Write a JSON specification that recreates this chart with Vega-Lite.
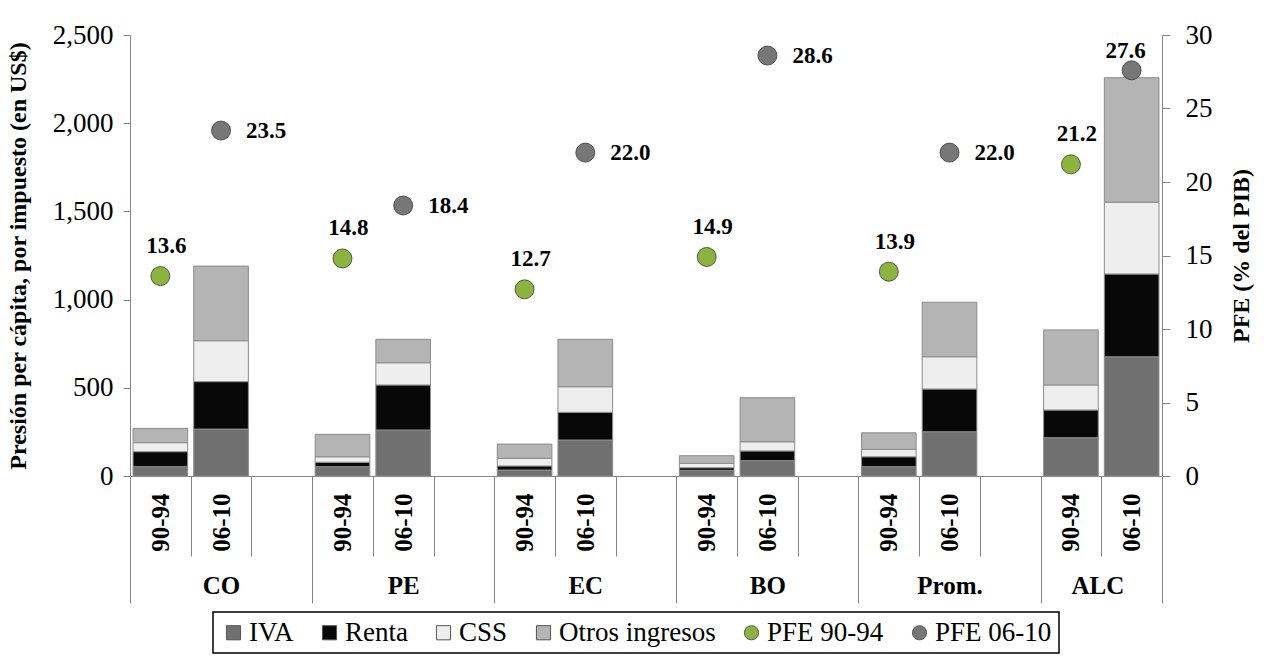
{
  "$schema": "https://vega.github.io/schema/vega-lite/v6.json",
  "width": 1032,
  "height": 441,
  "autosize": {"type": "none"},
  "padding": {"left": 130, "top": 35, "right": 107, "bottom": 192},
  "background": "white",
  "config": {
    "view": {"stroke": null},
    "font": "Liberation Serif",
    "axis": {"grid": false, "domainColor": "#868686", "tickColor": "#868686", "labelFont": "Liberation Serif", "titleFont": "Liberation Serif", "labelColor": "black", "titleColor": "black"},
    "legend": {"labelFont": "Liberation Serif", "titleFont": "Liberation Serif"}
  },
  "datasets": {
    "barras": [
      {"slot": "CO|90-94", "pais": "CO", "periodo": "90-94", "impuesto": "IVA", "orden": 1, "valor": 53},
      {"slot": "CO|90-94", "pais": "CO", "periodo": "90-94", "impuesto": "Renta", "orden": 2, "valor": 85},
      {"slot": "CO|90-94", "pais": "CO", "periodo": "90-94", "impuesto": "CSS", "orden": 3, "valor": 51},
      {"slot": "CO|90-94", "pais": "CO", "periodo": "90-94", "impuesto": "Otros ingresos", "orden": 4, "valor": 81},
      {"slot": "CO|06-10", "pais": "CO", "periodo": "06-10", "impuesto": "IVA", "orden": 1, "valor": 266},
      {"slot": "CO|06-10", "pais": "CO", "periodo": "06-10", "impuesto": "Renta", "orden": 2, "valor": 269},
      {"slot": "CO|06-10", "pais": "CO", "periodo": "06-10", "impuesto": "CSS", "orden": 3, "valor": 232},
      {"slot": "CO|06-10", "pais": "CO", "periodo": "06-10", "impuesto": "Otros ingresos", "orden": 4, "valor": 423},
      {"slot": "PE|90-94", "pais": "PE", "periodo": "90-94", "impuesto": "IVA", "orden": 1, "valor": 53},
      {"slot": "PE|90-94", "pais": "PE", "periodo": "90-94", "impuesto": "Renta", "orden": 2, "valor": 25},
      {"slot": "PE|90-94", "pais": "PE", "periodo": "90-94", "impuesto": "CSS", "orden": 3, "valor": 31},
      {"slot": "PE|90-94", "pais": "PE", "periodo": "90-94", "impuesto": "Otros ingresos", "orden": 4, "valor": 127},
      {"slot": "PE|06-10", "pais": "PE", "periodo": "06-10", "impuesto": "IVA", "orden": 1, "valor": 261},
      {"slot": "PE|06-10", "pais": "PE", "periodo": "06-10", "impuesto": "Renta", "orden": 2, "valor": 255},
      {"slot": "PE|06-10", "pais": "PE", "periodo": "06-10", "impuesto": "CSS", "orden": 3, "valor": 126},
      {"slot": "PE|06-10", "pais": "PE", "periodo": "06-10", "impuesto": "Otros ingresos", "orden": 4, "valor": 133},
      {"slot": "EC|90-94", "pais": "EC", "periodo": "90-94", "impuesto": "IVA", "orden": 1, "valor": 34},
      {"slot": "EC|90-94", "pais": "EC", "periodo": "90-94", "impuesto": "Renta", "orden": 2, "valor": 23},
      {"slot": "EC|90-94", "pais": "EC", "periodo": "90-94", "impuesto": "CSS", "orden": 3, "valor": 43},
      {"slot": "EC|90-94", "pais": "EC", "periodo": "90-94", "impuesto": "Otros ingresos", "orden": 4, "valor": 81},
      {"slot": "EC|06-10", "pais": "EC", "periodo": "06-10", "impuesto": "IVA", "orden": 1, "valor": 204},
      {"slot": "EC|06-10", "pais": "EC", "periodo": "06-10", "impuesto": "Renta", "orden": 2, "valor": 157},
      {"slot": "EC|06-10", "pais": "EC", "periodo": "06-10", "impuesto": "CSS", "orden": 3, "valor": 145},
      {"slot": "EC|06-10", "pais": "EC", "periodo": "06-10", "impuesto": "Otros ingresos", "orden": 4, "valor": 269},
      {"slot": "BO|90-94", "pais": "BO", "periodo": "90-94", "impuesto": "IVA", "orden": 1, "valor": 32},
      {"slot": "BO|90-94", "pais": "BO", "periodo": "90-94", "impuesto": "Renta", "orden": 2, "valor": 15},
      {"slot": "BO|90-94", "pais": "BO", "periodo": "90-94", "impuesto": "CSS", "orden": 3, "valor": 25},
      {"slot": "BO|90-94", "pais": "BO", "periodo": "90-94", "impuesto": "Otros ingresos", "orden": 4, "valor": 43},
      {"slot": "BO|06-10", "pais": "BO", "periodo": "06-10", "impuesto": "IVA", "orden": 1, "valor": 87},
      {"slot": "BO|06-10", "pais": "BO", "periodo": "06-10", "impuesto": "Renta", "orden": 2, "valor": 55},
      {"slot": "BO|06-10", "pais": "BO", "periodo": "06-10", "impuesto": "CSS", "orden": 3, "valor": 52},
      {"slot": "BO|06-10", "pais": "BO", "periodo": "06-10", "impuesto": "Otros ingresos", "orden": 4, "valor": 250},
      {"slot": "Prom.|90-94", "pais": "Prom.", "periodo": "90-94", "impuesto": "IVA", "orden": 1, "valor": 53},
      {"slot": "Prom.|90-94", "pais": "Prom.", "periodo": "90-94", "impuesto": "Renta", "orden": 2, "valor": 56},
      {"slot": "Prom.|90-94", "pais": "Prom.", "periodo": "90-94", "impuesto": "CSS", "orden": 3, "valor": 42},
      {"slot": "Prom.|90-94", "pais": "Prom.", "periodo": "90-94", "impuesto": "Otros ingresos", "orden": 4, "valor": 94},
      {"slot": "Prom.|06-10", "pais": "Prom.", "periodo": "06-10", "impuesto": "IVA", "orden": 1, "valor": 251},
      {"slot": "Prom.|06-10", "pais": "Prom.", "periodo": "06-10", "impuesto": "Renta", "orden": 2, "valor": 242},
      {"slot": "Prom.|06-10", "pais": "Prom.", "periodo": "06-10", "impuesto": "CSS", "orden": 3, "valor": 183},
      {"slot": "Prom.|06-10", "pais": "Prom.", "periodo": "06-10", "impuesto": "Otros ingresos", "orden": 4, "valor": 309},
      {"slot": "ALC|90-94", "pais": "ALC", "periodo": "90-94", "impuesto": "IVA", "orden": 1, "valor": 217},
      {"slot": "ALC|90-94", "pais": "ALC", "periodo": "90-94", "impuesto": "Renta", "orden": 2, "valor": 157},
      {"slot": "ALC|90-94", "pais": "ALC", "periodo": "90-94", "impuesto": "CSS", "orden": 3, "valor": 142},
      {"slot": "ALC|90-94", "pais": "ALC", "periodo": "90-94", "impuesto": "Otros ingresos", "orden": 4, "valor": 312},
      {"slot": "ALC|06-10", "pais": "ALC", "periodo": "06-10", "impuesto": "IVA", "orden": 1, "valor": 676},
      {"slot": "ALC|06-10", "pais": "ALC", "periodo": "06-10", "impuesto": "Renta", "orden": 2, "valor": 469},
      {"slot": "ALC|06-10", "pais": "ALC", "periodo": "06-10", "impuesto": "CSS", "orden": 3, "valor": 407},
      {"slot": "ALC|06-10", "pais": "ALC", "periodo": "06-10", "impuesto": "Otros ingresos", "orden": 4, "valor": 706}
    ],
    "pfe": [
      {"slot": "CO|90-94", "pais": "CO", "serie": "PFE 90-94", "pfe": 13.6},
      {"slot": "CO|06-10", "pais": "CO", "serie": "PFE 06-10", "pfe": 23.5},
      {"slot": "PE|90-94", "pais": "PE", "serie": "PFE 90-94", "pfe": 14.8},
      {"slot": "PE|06-10", "pais": "PE", "serie": "PFE 06-10", "pfe": 18.4},
      {"slot": "EC|90-94", "pais": "EC", "serie": "PFE 90-94", "pfe": 12.7},
      {"slot": "EC|06-10", "pais": "EC", "serie": "PFE 06-10", "pfe": 22.0},
      {"slot": "BO|90-94", "pais": "BO", "serie": "PFE 90-94", "pfe": 14.9},
      {"slot": "BO|06-10", "pais": "BO", "serie": "PFE 06-10", "pfe": 28.6},
      {"slot": "Prom.|90-94", "pais": "Prom.", "serie": "PFE 90-94", "pfe": 13.9},
      {"slot": "Prom.|06-10", "pais": "Prom.", "serie": "PFE 06-10", "pfe": 22.0},
      {"slot": "ALC|90-94", "pais": "ALC", "serie": "PFE 90-94", "pfe": 21.2},
      {"slot": "ALC|06-10", "pais": "ALC", "serie": "PFE 06-10", "pfe": 27.6}
    ]
  },
  "layer": [
    {
      "data": {"name": "barras"},
      "mark": {"type": "bar", "width": {"band": 0.9}, "stroke": "#8c8c8c", "strokeWidth": 1},
      "encoding": {
        "x": {
          "field": "slot", "type": "nominal",
          "scale": {"domain": ["CO|90-94", "CO|06-10", "CO|", "PE|90-94", "PE|06-10", "PE|", "EC|90-94", "EC|06-10", "EC|", "BO|90-94", "BO|06-10", "BO|", "Prom.|90-94", "Prom.|06-10", "Prom.|", "ALC|90-94", "ALC|06-10"], "paddingInner": 0, "paddingOuter": 0},
          "axis": {
            "orient": "bottom", "title": null, "labelAngle": -90, "labelAlign": "right", "labelBaseline": "middle",
            "labelExpr": "isString(datum.value) ? split(datum.value, '|')[1] : ''",
            "labelFont": "Liberation Serif", "labelFontSize": 25, "labelFontWeight": "bold", "labelOverlap": false,
            "tickBand": "extent", "tickSize": 80, "labelPadding": -63
          }
        },
        "y": {
          "field": "valor", "type": "quantitative", "stack": "zero",
          "scale": {"domain": [0, 2500], "nice": false},
          "axis": {
            "orient": "left", "values": [0, 500, 1000, 1500, 2000, 2500], "format": ",.0f",
            "labelFontSize": 27, "tickSize": 7, "labelPadding": 10,
            "title": "Presión per cápita, por impuesto (en US$)", "titleFontSize": 24, "titleFontWeight": "bold", "titlePadding": 22
          }
        },
        "color": {
          "field": "impuesto", "type": "nominal",
          "scale": {"domain": ["IVA", "Renta", "CSS", "Otros ingresos", "PFE 90-94", "PFE 06-10"], "range": ["#707070", "#080808", "#eeeeee", "#b4b4b4", "#8db33f", "#777777"]},
          "legend": {
            "title": null, "orient": "none", "legendX": 83, "legendY": 577, "direction": "horizontal", "columns": 6,
            "strokeColor": "black", "padding": 7,
            "labelFont": "Liberation Serif", "labelFontSize": 27, "labelColor": "black", "labelLimit": 400,
            "symbolSize": 200, "symbolStrokeWidth": 1, "symbolStrokeColor": "#555555", "columnPadding": 22, "labelOffset": 2,
            "encode": {
              "legend": {"update": {"strokeWidth": {"value": 1.5}}},
              "labels": {"update": {"font": {"value": "Liberation Serif"}}},
              "symbols": {"update": {"shape": {"signal": "indexof(['PFE 90-94','PFE 06-10'], datum.value) >= 0 ? 'circle' : 'square'"}}}
            }
          }
        },
        "order": {"field": "orden", "type": "quantitative"}
      }
    },
    {
      "data": {"name": "pfe"},
      "layer": [
        {
          "mark": {"type": "point", "filled": true, "shape": "circle", "size": 360, "opacity": 1, "stroke": "#3a3a3a", "strokeWidth": 0.8},
          "encoding": {
            "x": {
              "field": "slot", "type": "nominal",
              "axis": {
                "orient": "bottom", "title": null, "labelAngle": 0, "domain": false,
                "labelExpr": "!isString(datum.value) ? '' : (datum.value === 'ALC|90-94' ? 'ALC' : (split(datum.value, '|')[1] === '06-10' && split(datum.value, '|')[0] !== 'ALC' ? split(datum.value, '|')[0] : ''))",
                "labelAlign": {"condition": {"test": "datum.value === 'ALC|90-94'", "value": "left"}, "value": "center"},
                "labelBaseline": "top", "labelFont": "Liberation Serif", "labelFontSize": 25, "labelFontWeight": "bold", "labelOverlap": false,
                "tickBand": "extent", "tickSize": 127, "labelPadding": -30,
                "tickOpacity": {"condition": {"test": "!isString(datum.value) || datum.extra || split(datum.value, '|')[1] === '' || datum.value === 'ALC|06-10'", "value": 1}, "value": 0}
              }
            },
            "y": {
              "field": "pfe", "type": "quantitative",
              "scale": {"domain": [0, 30], "nice": false},
              "axis": {
                "orient": "right", "values": [0, 5, 10, 15, 20, 25, 30],
                "labelFontSize": 27, "tickSize": 8, "labelPadding": 15,
                "title": "PFE (% del PIB)", "titleFontSize": 24, "titleFontWeight": "bold", "titleAngle": 270, "titleBaseline": "top", "titlePadding": 17
              }
            },
            "color": {"field": "serie", "type": "nominal"}
          }
        },
        {
          "transform": [{"filter": "datum.serie === 'PFE 90-94'"}],
          "mark": {"type": "text", "font": "Liberation Serif", "fontSize": 23, "fontWeight": "bold", "color": "black", "align": "center", "baseline": "alphabetic", "dx": 6, "dy": -23},
          "encoding": {
            "x": {"field": "slot", "type": "nominal"},
            "y": {"field": "pfe", "type": "quantitative"},
            "text": {"field": "pfe", "type": "quantitative", "format": ".1f"}
          }
        },
        {
          "transform": [{"filter": "datum.serie === 'PFE 06-10' && datum.pais !== 'ALC'"}],
          "mark": {"type": "text", "font": "Liberation Serif", "fontSize": 23, "fontWeight": "bold", "color": "black", "align": "left", "baseline": "middle", "dx": 25},
          "encoding": {
            "x": {"field": "slot", "type": "nominal"},
            "y": {"field": "pfe", "type": "quantitative"},
            "text": {"field": "pfe", "type": "quantitative", "format": ".1f"}
          }
        },
        {
          "transform": [{"filter": "datum.serie === 'PFE 06-10' && datum.pais === 'ALC'"}],
          "mark": {"type": "text", "font": "Liberation Serif", "fontSize": 23, "fontWeight": "bold", "color": "black", "align": "center", "baseline": "alphabetic", "dx": -6, "dy": -12},
          "encoding": {
            "x": {"field": "slot", "type": "nominal"},
            "y": {"field": "pfe", "type": "quantitative"},
            "text": {"field": "pfe", "type": "quantitative", "format": ".1f"}
          }
        }
      ]
    }
  ],
  "resolve": {"scale": {"y": "independent"}, "axis": {"x": "independent"}}
}
